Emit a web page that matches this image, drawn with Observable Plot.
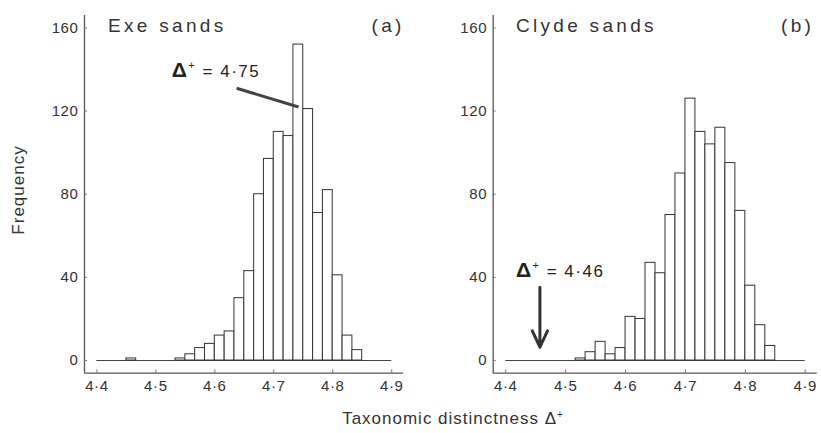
<!DOCTYPE html>
<html><head><meta charset="utf-8">
<script src="https://cdn.jsdelivr.net/npm/d3@7"></script>
<script src="https://cdn.jsdelivr.net/npm/@observablehq/plot@0.6"></script>
<style>
body{margin:0;background:#fff;}
#wrap{position:relative;width:821px;height:433px;font-family:"Liberation Sans",Arial,sans-serif;color:#333;overflow:hidden}
#pa,#pb{position:absolute;top:0;}
#pa{left:0}#pb{left:440px}
#ylab{position:absolute;left:19px;top:190px;transform:translate(-50%,-50%) rotate(-90deg);font-size:17px;letter-spacing:1px;white-space:nowrap}
#xlab{position:absolute;left:453px;top:419px;transform:translate(-50%,-50%);font-size:17px;letter-spacing:1px;white-space:nowrap}
#xlab sup{font-size:10px}
</style></head><body>
<div id="wrap"><div id="pa"></div><div id="pb"></div><div id="ylab">Frequency</div><div id="xlab">Taxonomic distinctness Δ<sup>+</sup></div></div>
<script>
// lower edges of histogram bins (width 1/60)
const binLower = [4.4, 4.4167, 4.4333, 4.45, 4.4667, 4.4833, 4.5, 4.5167, 4.5333, 4.55, 4.5667, 4.5833, 4.6, 4.6167, 4.6333, 4.65, 4.6667, 4.6833, 4.7, 4.7167, 4.7333, 4.75, 4.7667, 4.7833, 4.8, 4.8167, 4.8333];
const binWidth = 1 / 60;
const exeCounts   = [0, 0, 0, 1, 0, 0, 0, 0, 1, 3, 6, 8, 12, 14, 30, 43, 80, 97, 110, 108, 152, 121, 71, 82, 41, 12, 5];
const clydeCounts = [0, 0, 0, 0, 0, 0, 0, 1, 4, 9, 3, 6, 21, 20, 47, 42, 70, 90, 126, 110, 104, 112, 95, 72, 36, 17, 7];
const xTicks = [4.4, 4.5, 4.6, 4.7, 4.8, 4.9];
const yTicks = [0, 40, 80, 120, 160];
const titles = ["Exe sands", "Clyde sands"];
const tags = ["(a)", "(b)"];
const observed = ["4·75", "4·46"];

const xDomain = [4.379, 4.92];
const yDomain = [-6.1, 166];
const fmt = d => d3.format(".1f")(d).replace(".", "·");

function panel(i) {
  const counts = i === 0 ? exeCounts : clydeCounts;
  const bins = binLower.map((lo, k) => ({x1: lo, x2: lo + binWidth, count: counts[k]})).filter(d => d.count > 0);
  const isA = i === 0;
  const marks = [
    Plot.ruleY([0], {x1: 4.4, x2: 4.9, stroke: "#444", strokeWidth: 1.2}),
    Plot.rectY(bins, {x1: "x1", x2: "x2", y: "count", fill: "white", stroke: "#333", strokeWidth: 1}),
    Plot.ruleX([xDomain[0]], {stroke: "#555", strokeWidth: 1.3}),
    Plot.ruleY([yDomain[0]], {stroke: "#555", strokeWidth: 1.3}),
    Plot.ruleX(xTicks, {x: d => d, y1: yDomain[0], y2: yDomain[0] + 1.6, stroke: "#777"}),
    Plot.ruleY(yTicks, {y: d => d, x1: xDomain[0], x2: xDomain[0] + 0.005, stroke: "#777"}),
    Plot.axisX({ticks: xTicks, tickSize: 0, tickPadding: 7, tickFormat: fmt, fontSize: 15, label: null}),
    Plot.axisY({ticks: yTicks, tickSize: 0, tickPadding: 6, tickFormat: d => String(d), fontSize: 15, label: null}),
    Plot.text([titles[i]], {x: isA ? 4.419 : 4.417, y: 160.8, text: d => d, textAnchor: "start", fontSize: 19, fill: "#333"}),
    Plot.text([tags[i]], {x: isA ? 4.922 : 4.915, y: 160.8, text: d => d, textAnchor: "end", fontSize: 19, fill: "#333"}),
    Plot.text([observed[i]], {x: isA ? 4.527 : 4.417, y: isA ? 139 : 42.8, text: d => "Δ⁺ = " + d, textAnchor: "start", fontSize: 17, fill: "#222"})
  ];
  if (isA) {
    marks.push(Plot.link([{a: 4.637, b: 131, c: 4.742, d: 122}], {x1: "a", y1: "b", x2: "c", y2: "d", stroke: "#444", strokeWidth: 3}));
  } else {
    marks.push(Plot.arrow([{a: 4.457, b: 35.2, c: 4.457, d: 6.4}], {x1: "a", y1: "b", x2: "c", y2: "d", stroke: "#333", strokeWidth: 3, headLength: 9, headAngle: 50}));
  }
  return Plot.plot({
    width: isA ? 440 : 381,
    height: 400,
    marginLeft: isA ? 84 : 52.7,
    marginRight: isA ? 37 : 4.3,
    marginTop: 15,
    marginBottom: 27.3,
    x: {domain: xDomain, axis: null},
    y: {domain: yDomain, axis: null},
    style: {fontFamily: "Liberation Sans, Arial, sans-serif", color: "#333", background: "transparent", overflow: "visible"},
    marks
  });
}

const a = panel(0), b = panel(1);
document.getElementById("pa").appendChild(a);
document.getElementById("pb").appendChild(b);
for (const svg of [a, b]) {
  const texts = Array.from(svg.querySelectorAll("text"));
  for (const el of texts) {
    const s = el.textContent;
    if (titles.includes(s) || tags.includes(s)) {
      el.setAttribute("letter-spacing", "3.3");
      el.style.letterSpacing = "3.3px";
    } else if (s.startsWith("Δ")) {
      // larger, bolder Δ with a raised plus sign, as in the reference
      const rest = s.replace("Δ⁺", "");
      const t = d3.select(el);
      t.text("").attr("letter-spacing", "1.5");
      t.append("tspan").attr("font-size", 21).attr("font-weight", "bold").text("Δ");
      t.append("tspan").attr("font-size", 11).attr("dy", "-0.7em").text("+");
      t.append("tspan").attr("dy", "0.45em").text(rest);
    } else if (s.includes("·") || /^\d+$/.test(s)) {
      el.setAttribute("letter-spacing", "0.6");
    }
  }
}
</script>
</body></html>
